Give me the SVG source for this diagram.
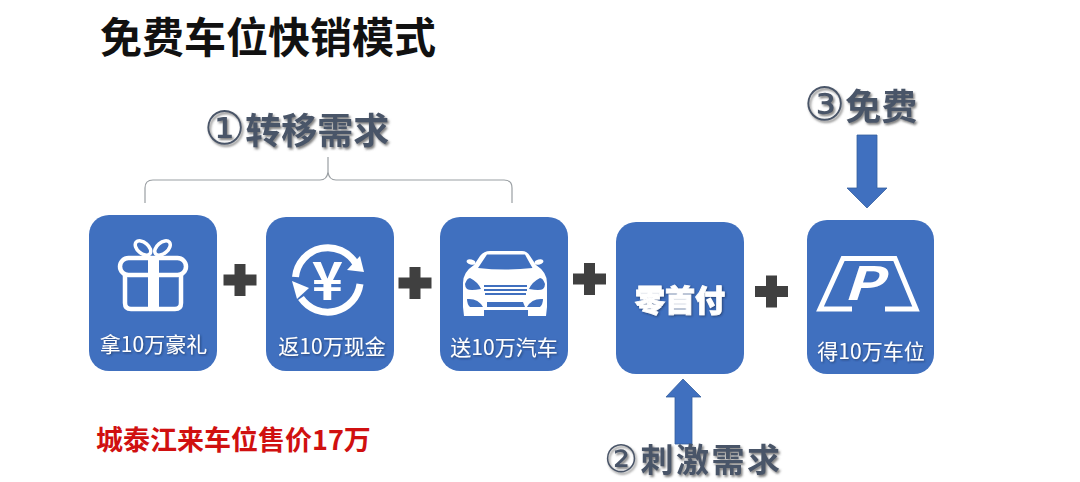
<svg xmlns="http://www.w3.org/2000/svg" width="1080" height="482" viewBox="0 0 1080 482">
  <defs>
    <filter id="shadowGrey" x="-10%" y="-20%" width="125%" height="150%"><feDropShadow dx="1.5" dy="2" stdDeviation="1.2" flood-color="#555" flood-opacity="0.75"/></filter>
    <filter id="shadowDark" x="-10%" y="-20%" width="125%" height="150%"><feDropShadow dx="1" dy="1" stdDeviation="0.8" flood-color="#1c2f55" flood-opacity="0.7"/></filter>
    <path id="plus" d="M-5.5,-16 H5.5 V-5.5 H16.5 V5.5 H5.5 V16 H-5.5 V5.5 H-16.5 V-5.5 H-5.5 Z"/>
  </defs>
  <style>
    text { font-family: "Noto Sans CJK SC", "Liberation Sans", sans-serif; }
    .card { fill: #4070bf; }
    .label { fill: #fff; font-size: 21px; text-anchor: middle; filter: url(#shadowDark); }
    .head { fill: #4a5568; font-size: 36px; font-weight: 700; filter: url(#shadowGrey); }
    .num { font-family: "DejaVu Sans", sans-serif; font-weight: 400; font-size: 46px; }
    .plus { fill: #404040; }
    .arrow { fill: #4070bf; stroke: #35609f; stroke-width: 0.8; }
    .ln { fill: none; stroke: #fff; }
    .hole { fill: #4070bf; }
    .wh { fill: #fff; }
  </style>
  <rect width="1080" height="482" fill="#fff"/>

  <g id="title"><text x="100" y="53" font-size="42" font-weight="700" fill="#111">免费车位快销模式</text></g>

  <g id="connectors">
    <path d="M145,203 V188 Q145,180 153,180 H320 Q327,180 328,172 V157 M328,172 Q329,180 336,180 H504 Q512,180 512,188 V203" fill="none" stroke="#9a9fa3" stroke-width="1.2"/>
    <path class="arrow" d="M857,135 H877 V188 H887 L867,208 L847,188 H857 Z"/>
    <path class="arrow" d="M675,444 H692 V397 H701 L683,379 L666,397 H675 Z"/>
    <use href="#plus" class="plus" x="240" y="280"/>
    <use href="#plus" class="plus" x="415" y="283"/>
    <use href="#plus" class="plus" x="589.5" y="279"/>
    <use href="#plus" class="plus" x="771.5" y="291.5"/>
  </g>

  <g id="step1-label"><text class="head" x="204" y="144"><tspan class="num">①</tspan>转移需求</text></g>
  <g id="step2-label"><text class="head" x="604" y="472" style="font-size:33px;letter-spacing:2.5px"><tspan class="num" style="font-size:38px">②</tspan>刺激需求</text></g>
  <g id="step3-label"><text class="head" x="804" y="120"><tspan class="num">③</tspan>免费</text></g>

  <g id="node-gift">
    <rect class="card" x="89" y="215" width="128" height="156" rx="20"/>
    <rect class="ln" x="120" y="258" width="66" height="17" rx="8.5" stroke-width="4.5"/>
    <path class="ln" stroke-width="4.5" d="M125,275 V303 Q125,309 131,309 H175 Q181,309 181,303 V275"/>
    <rect class="wh" x="148" y="257" width="11" height="54"/>
    <ellipse class="ln" stroke-width="3.500" cx="143" cy="248" rx="9" ry="5.500" transform="rotate(40 143 248)"/>
    <ellipse class="ln" stroke-width="3.500" cx="162.500" cy="248" rx="9" ry="5.500" transform="rotate(-40 162.500 248)"/>
    <text class="label" x="153.500" y="352">拿10万豪礼</text>
  </g>

  <g id="node-cash">
    <rect class="card" x="266" y="217" width="128" height="154" rx="20"/>
    <path class="ln" stroke-width="7" d="M295.500,277 A32.500,32.500 0 0 1 356,264"/>
    <path class="ln" stroke-width="7" d="M360,284 A32.500,32.500 0 0 1 301,298"/>
    <path class="wh" d="M347,270 L364,272 L360,256 Z"/>
    <path class="wh" d="M292,281 L309,288 L297,299 Z"/>
    <text x="327.500" y="300" font-family="Liberation Sans" font-size="53" font-weight="700" fill="#fff" text-anchor="middle">¥</text>
    <text class="label" x="332" y="354">返10万现金</text>
  </g>

  <g id="node-car">
    <rect class="card" x="440" y="217" width="128" height="154" rx="20"/>
    <path class="wh" d="M490,251 H522 Q527,251 530,256 L536,265 Q547,272 547,283 V307 L546,316 H528 V310 H484 V316 H464 L463,307 V283 Q463,272 474,265 L480,256 Q484,251 490,251 Z"/>
    <ellipse class="wh" cx="471" cy="262" rx="4.500" ry="2.500" transform="rotate(15 471 262)"/>
    <ellipse class="wh" cx="539" cy="262" rx="4.500" ry="2.500" transform="rotate(-15 539 262)"/>
    <path class="hole" d="M487,254.500 H525 Q529,262 532.500,268 Q505,271 478,268 Q482,262 487,254.500 Z"/>
    <path class="hole" d="M465,284 Q467,278 470,278 Q478,282 481,289 Q470,291 467,289 Q465,287 465,284 Z M545,284 Q543,278 540,278 Q532,282 529,289 Q540,291 543,289 Q545,287 545,284 Z"/>
    <path class="hole" d="M467,299 Q478,298 483,307 H470 Q467,304 467,299 Z M543,299 Q532,298 527,307 H540 Q543,304 543,299 Z"/>
    <path class="hole" d="M487,302 H523 L525,307 H487 Z"/>
    <path class="hole" d="M484,285 H527 V287 H484 Z M484,289 H527 V291 H484 Z M485,293 H526 V295 H485 Z"/>
    <text class="label" x="504" y="355">送10万汽车</text>
  </g>

  <g id="node-zero">
    <rect class="card" x="616" y="222" width="128" height="152" rx="20"/>
    <text x="680" y="311" font-size="30" font-weight="900" fill="#fff" stroke="#fff" stroke-width="0.8" text-anchor="middle" filter="url(#shadowDark)">零首付</text>
  </g>

  <g id="node-parking">
    <rect class="card" x="807" y="220" width="127" height="154" rx="20"/>
    <path class="ln" stroke-width="5" d="M852,309 H820 L843,258.500 H895 L916,309 H885"/>
    <text transform="translate(843,300) scale(1.3,1)" font-family="Liberation Sans" font-size="46" font-weight="700" font-style="italic" fill="#fff">P</text>
    <text class="label" x="871" y="359">得10万车位</text>
  </g>

  <g id="note"><text x="96" y="450" font-size="27" font-weight="700" fill="#d01010">城泰江来车位售价17万</text></g>
</svg>
